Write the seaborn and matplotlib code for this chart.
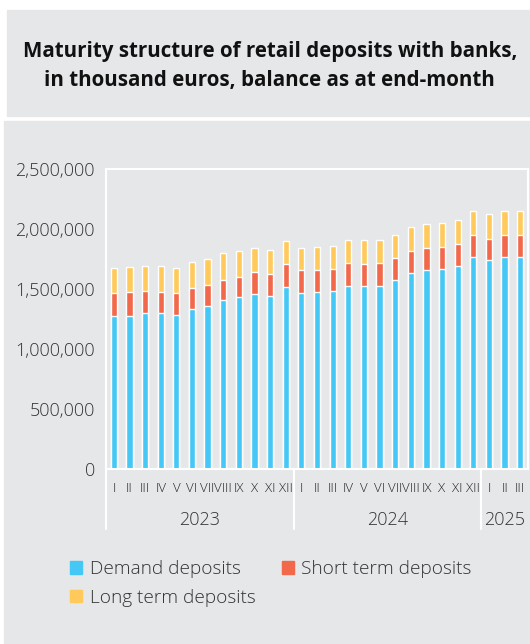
import numpy as np
import pandas as pd
import matplotlib.pyplot as plt
import seaborn as sns
from matplotlib.patches import Rectangle, Patch
from matplotlib.ticker import FuncFormatter
import matplotlib.transforms as mtransforms

# --- data (balance at end-month, thousand euros) ---
months = ['I', 'II', 'III', 'IV', 'V', 'VI', 'VII', 'VIII', 'IX', 'X', 'XI', 'XII']
period_labels = months + months + ['I', 'II', 'III']
years = ['2023', '2024', '2025']

demand = [1271000, 1279000, 1296000, 1298000, 1287000, 1335000, 1362000, 1409000, 1434000,
          1459000, 1443000, 1517000, 1468000, 1476000, 1481000, 1528000, 1526000, 1528000,
          1578000, 1631000, 1661000, 1670000, 1694000, 1769000, 1739000, 1767000, 1767000]
short_term = [193000, 199000, 191000, 178000, 183000, 177000, 175000, 169000, 169000,
              180000, 185000, 194000, 187000, 179000, 183000, 186000, 185000, 186000,
              183000, 188000, 183000, 182000, 183000, 185000, 180000, 187000, 187000]
long_term = [208000, 206000, 205000, 216000, 208000, 216000, 216000, 219000, 216000,
             202000, 199000, 189000, 186000, 197000, 197000, 194000, 197000, 194000,
             193000, 194000, 199000, 200000, 200000, 200000, 202000, 200000, 200000]

BLUE = '#45c8f5'
RED = '#f2684a'
YELLOW = '#ffca5b'
GREY = '#e6e7e9'

df = pd.DataFrame({'pos': range(len(demand)), 'demand': demand,
                   'short': short_term, 'long': long_term})
df['demand_short'] = df['demand'] + df['short']
df['total'] = df['demand_short'] + df['long']

sns.set_style('white', rc={'axes.facecolor': GREY})
plt.rcParams['font.family'] = ['Open Sans', 'DejaVu Sans']

fig = plt.figure(figsize=(5.3, 6.44), dpi=100, facecolor='white')
# grey panels behind title and chart
fig.patches.append(Rectangle((7 / 530, 1 - 116 / 644), 523 / 530, 106 / 644,
                             transform=fig.transFigure, color=GREY, zorder=-5))
fig.patches.append(Rectangle((4 / 530, 0), 526 / 530, 1 - 121 / 644,
                             transform=fig.transFigure, color=GREY, zorder=-5))

ax = fig.add_axes([106 / 530, 1 - 469 / 644, 422 / 530, 300 / 644])
ax.set_zorder(2)

# stacked bars: draw cumulative totals from top down
sns.barplot(data=df, x='pos', y='total', color=YELLOW, saturation=1, width=0.4, ax=ax)
sns.barplot(data=df, x='pos', y='demand_short', color=RED, saturation=1, width=0.4, ax=ax)
sns.barplot(data=df, x='pos', y='demand', color=BLUE, saturation=1, width=0.4, ax=ax)

ax.set_xlim(-0.5, len(demand) - 0.5)
ax.set_ylim(0, 2500000)
ax.set_yticks(np.arange(0, 2500001, 500000))
ax.yaxis.set_major_formatter(FuncFormatter(lambda v, p: f'{v:,.0f}'))
ax.set_xlabel('')
ax.set_ylabel('')

ax.set_xticks(range(len(period_labels)), period_labels)
ax.set_xticks(np.arange(0.5, len(demand) - 1, 1), minor=True)
ax.tick_params(axis='x', which='major', length=0, pad=9, labelsize=9.5, labelcolor='#222222')
ax.tick_params(axis='x', which='minor', length=5, width=1.5, color='white')
ax.tick_params(axis='y', length=5, width=1.5, color='white', pad=3, labelsize=13,
               labelcolor='#333333')
for lbl in ax.get_yticklabels() + ax.get_xticklabels():
    lbl.set_fontweight('light')

for s in ax.spines.values():
    s.set_color('white')
    s.set_linewidth(1.5)
ax.grid(False)

# year separators and labels
trans = mtransforms.blended_transform_factory(ax.transData, ax.transAxes)
for xsep in [-0.5, 11.5, 23.5]:
    ax.plot([xsep, xsep], [0, -0.2], transform=trans, color='white', lw=1.5, clip_on=False)
for yr, xc in zip(years, [5.5, 17.5, 25.0]):
    ax.text(xc, -0.17, yr, transform=trans, ha='center', va='center', fontsize=13,
            color='#333333', fontweight='light')

# title
fig.text(0.509, 1 - 66 / 644, 'Maturity structure of retail deposits with banks,\n'
         'in thousand euros, balance as at end-month', ha='center', va='center',
         fontsize=14.8, fontweight='bold', linespacing=1.5, color='#111111')

# legend
handles = [Patch(color=BLUE, label='Demand deposits'),
           Patch(color=YELLOW, label='Long term deposits'),
           Patch(color=RED, label='Short term deposits')]
leg = fig.legend(handles=handles, ncol=2, loc='upper left', bbox_to_anchor=(53 / 530, 1 - 543 / 644),
                 frameon=False, fontsize=13.7, handlelength=0.62, handleheight=0.62,
                 handletextpad=0.4, columnspacing=1.4, labelspacing=0.55)
for t in leg.get_texts():
    t.set_color('#333333')
    t.set_fontweight('light')

fig.savefig('out.png', dpi=100, facecolor='white')
